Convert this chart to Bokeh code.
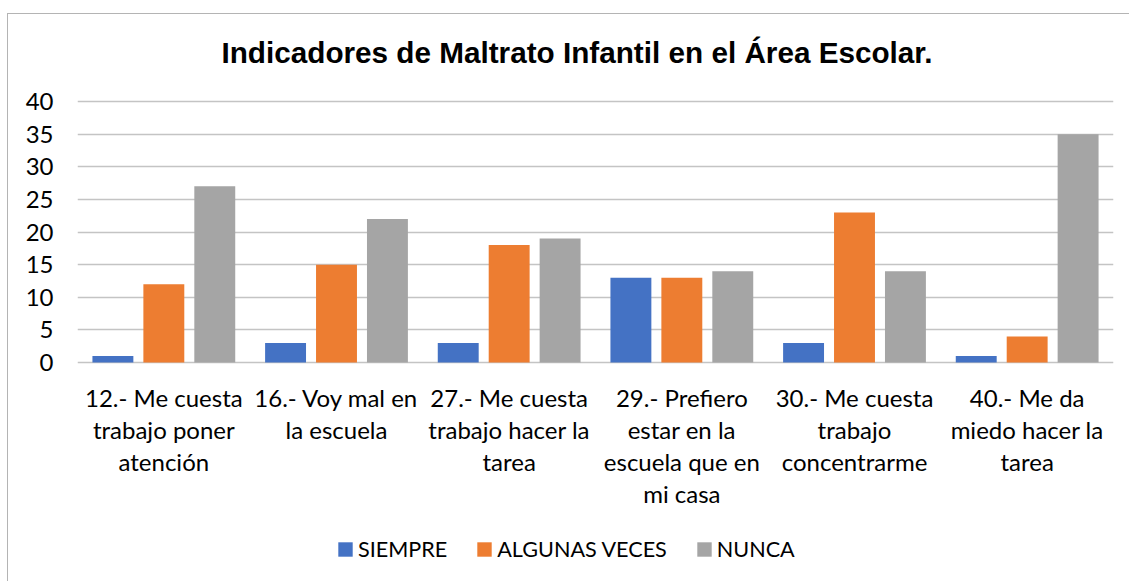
from bokeh.plotting import figure
from bokeh.models import FixedTicker, Legend, LegendItem, Range1d, ColumnDataSource
from bokeh.core.properties import value
from bokeh.embed import file_html
from bokeh.resources import INLINE

title_text = "Indicadores de Maltrato Infantil en el Área Escolar."
categories = [
    "12.- Me cuesta\ntrabajo poner\natención",
    "16.- Voy mal en\nla escuela",
    "27.- Me cuesta\ntrabajo hacer la\ntarea",
    "29.- Prefiero\nestar en la\nescuela que en\nmi casa",
    "30.- Me cuesta\ntrabajo\nconcentrarme",
    "40.- Me da\nmiedo hacer la\ntarea",
]
series_names = ["SIEMPRE", "ALGUNAS VECES", "NUNCA"]
siempre = [1, 3, 3, 13, 3, 1]
algunas_veces = [12, 15, 18, 13, 23, 4]
nunca = [27, 22, 19, 14, 14, 35]
y_ticks = [0, 5, 10, 15, 20, 25, 30, 35, 40]

colors = ["#4472C4", "#ED7D31", "#A5A5A5"]
LABEL_FONT = "Lato"
GRID = "#c4c4c4"

centers = [i + 0.5 for i in range(len(categories))]
offsets = [-0.295, 0.0, 0.295]
bar_w = 0.237

# layout constants (pixels)
PX_PER_UNIT = 261 / 40.0
PX_PER_CAT = 1036 / 6.0
FIG_W, FIG_H = 1122, 568
ABOVE_40 = 87          # pixels from top of figure to the 40 gridline
y_end = 40 + ABOVE_40 / PX_PER_UNIT
y_start = y_end - FIG_H / PX_PER_UNIT

p = figure(width=FIG_W, height=FIG_H, output_backend="svg", toolbar_location=None,
           x_range=Range1d(0, len(categories)), y_range=Range1d(y_start, y_end),
           min_border_left=69, min_border_right=FIG_W - 69 - 1036, min_border_top=0,
           min_border_bottom=0)
p.styles = {"margin-left": "7px", "margin-top": "13px",
            "border-left": "1px solid #b4b4b4", "border-top": "1px solid #b4b4b4"}

renderers = []
for vals, off, col in zip([siempre, algunas_veces, nunca], offsets, colors):
    src = ColumnDataSource(dict(x=[c + off for c in centers], top=vals))
    r = p.vbar(x="x", top="top", width=bar_w, bottom=0, source=src, fill_color=col, line_color=None)
    renderers.append(r)

# title drawn as text, centred about 49px above the 40 gridline
p.text(x=[(576.5 - 77) / PX_PER_CAT], y=[40 + 49 / PX_PER_UNIT], text=[title_text],
       text_align="center", text_baseline="middle",
       text_font=value("Liberation Sans"), text_font_style="bold",
       text_font_size="29.7px", text_color="#000000")

p.xaxis.visible = False

p.yaxis.ticker = FixedTicker(ticks=y_ticks)
p.yaxis.major_label_text_font = LABEL_FONT
p.yaxis.major_label_text_font_size = "24px"
p.yaxis.major_label_text_color = "#000000"
p.yaxis.major_tick_line_color = None
p.yaxis.minor_tick_line_color = None
p.yaxis.axis_line_color = None
p.yaxis.major_label_standoff = 18

p.xgrid.grid_line_color = None
p.ygrid.ticker = FixedTicker(ticks=y_ticks)
p.ygrid.grid_line_color = GRID
p.ygrid.grid_line_width = 1.3
p.outline_line_color = None

# category labels below the zero line, one glyph row per text line
lx, ly, lt = [], [], []
for c, lab in zip(centers, categories):
    for k, line in enumerate(lab.split("\n")):
        lx.append(c)
        ly.append(-(35 + 32 * k) / PX_PER_UNIT)
        lt.append(line)
p.text(x=lx, y=ly, text=lt, text_align="center", text_baseline="middle",
       text_font=value(LABEL_FONT), text_font_size="24px", text_color="#000000")

legend = Legend(items=[LegendItem(label=n, renderers=[r]) for n, r in zip(series_names, renderers)],
                orientation="horizontal", location=(259, 20),
                glyph_width=18, glyph_height=18, label_text_font=LABEL_FONT,
                label_text_font_size="21.6px", label_text_color="#000000", spacing=28,
                label_standoff=4, padding=0, margin=0,
                border_line_color=None, background_fill_alpha=0)
p.add_layout(legend)

open("out.html", "w").write(file_html(p, INLINE))
